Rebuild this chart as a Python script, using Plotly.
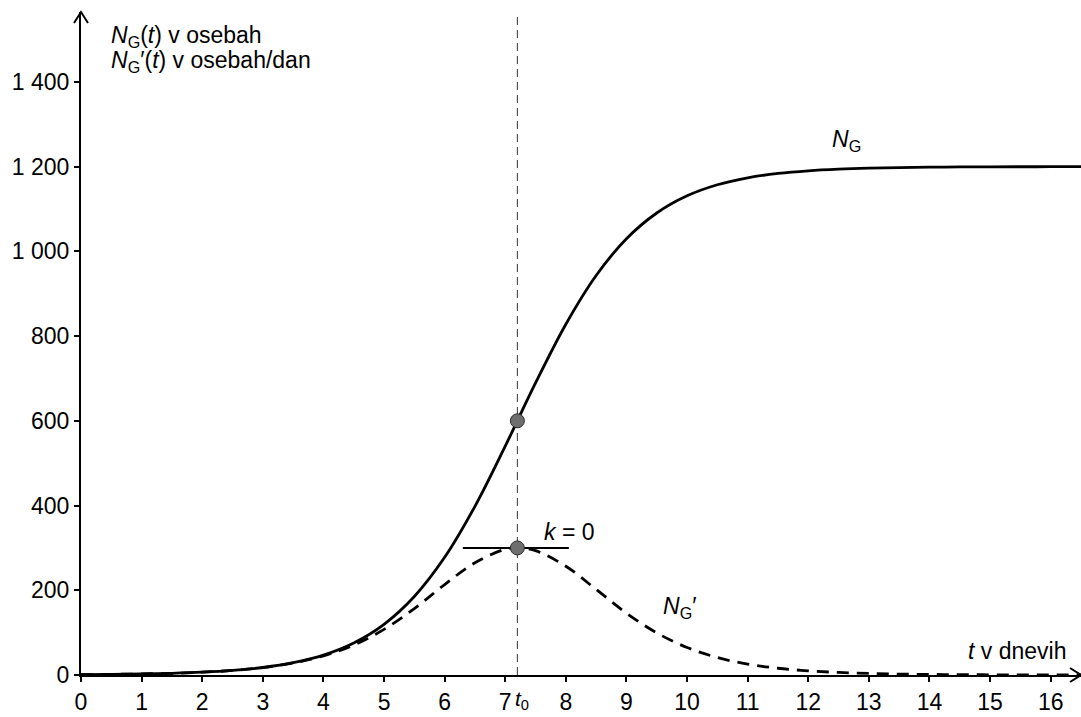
import plotly.graph_objects as go

# ---- data ----
t_days = [0, 0.5, 1, 1.5, 2, 2.5, 3, 3.5, 4, 4.5, 5, 5.5, 6, 6.5, 7, 7.2, 7.5, 8, 8.5, 9,
          9.5, 10, 10.5, 11, 11.5, 12, 12.5, 13, 13.5, 14, 14.5, 15, 15.5, 16, 16.5]
N_G = [0.9, 1.5, 2.4, 4.0, 6.6, 10.8, 17.7, 29.0, 47.0, 75.6, 119.7, 185.4, 277.8, 398.1,
       540.2, 600.0, 689.3, 828.0, 943.0, 1029.8, 1090.6, 1131.2, 1157.3, 1173.7, 1183.9,
       1190.2, 1194.0, 1196.4, 1197.8, 1198.7, 1199.2, 1199.5, 1199.7, 1199.8, 1199.9]
dN_G = [0.9, 1.5, 2.4, 4.0, 6.6, 10.7, 17.5, 28.3, 45.2, 70.8, 107.8, 156.7, 213.5, 265.0,
        297.0, 300.0, 293.4, 256.7, 202.0, 146.0, 99.4, 64.9, 41.2, 25.7, 15.9, 9.8, 6.0,
        3.6, 2.2, 1.3, 0.8, 0.5, 0.3, 0.2, 0.1]
t0 = 7.2
N_t0 = 600
dN_t0 = 300
tangent_t = [6.3, 8.05]
tangent_v = [300, 300]
x_ticks = list(range(0, 17))
y_ticks = [0, 200, 400, 600, 800, 1000, 1200, 1400]
y_tick_labels = ["0", "200", "400", "600", "800", "1 000", "1 200", "1 400"]

FONT = "Liberation Sans"
FS = 23

fig = go.Figure()
fig.add_trace(go.Scatter(x=t_days, y=dN_G, mode="lines", line=dict(color="black", width=2.8, dash="12px,8px", shape="spline"),
                         showlegend=False, hoverinfo="skip"))
fig.add_trace(go.Scatter(x=t_days, y=N_G, mode="lines", line=dict(color="black", width=2.8, shape="spline"),
                         showlegend=False, hoverinfo="skip"))
fig.add_trace(go.Scatter(x=tangent_t, y=tangent_v, mode="lines", line=dict(color="black", width=2),
                         showlegend=False, hoverinfo="skip"))
fig.add_trace(go.Scatter(x=[t0, t0], y=[N_t0, dN_t0], mode="markers",
                         marker=dict(size=14, color="#6e6e6e", line=dict(color="#2a2a2a", width=1)),
                         showlegend=False, hoverinfo="skip", cliponaxis=False))

# vertical dashed line at t0
fig.add_shape(type="line", xref="x", yref="paper", x0=t0, x1=t0, y0=0, y1=1,
              line=dict(color="#333333", width=1, dash="8px,5px"), layer="below")
# axis arrows (open chevrons)
fig.add_shape(type="path", xref="paper", yref="paper", xsizemode="pixel", ysizemode="pixel",
              xanchor=0, yanchor=1, path="M -7,-11 L 0,0 L 7,-11",
              line=dict(color="black", width=2))
fig.add_shape(type="path", xref="paper", yref="paper", xsizemode="pixel", ysizemode="pixel",
              xanchor=1, yanchor=0, path="M -11,7 L 0,0 L -11,-7",
              line=dict(color="black", width=2))

ann = dict(showarrow=False, font=dict(family=FONT, size=FS, color="black"))
fig.add_annotation(x=0.47, y=1506, xanchor="left", yanchor="middle",
                   text="<i>N</i><sub>G</sub>(<i>t</i>) v osebah", **ann)
fig.add_annotation(x=0.47, y=1448, xanchor="left", yanchor="middle",
                   text="<i>N</i><sub>G</sub>′(<i>t</i>) v osebah/dan", **ann)
fig.add_annotation(x=16.29, y=57, xanchor="right", yanchor="middle", text="<i>t</i> v dnevih", **ann)
fig.add_annotation(x=12.36, y=1262, xanchor="left", yanchor="middle", text="<i>N</i><sub>G</sub>", **ann)
fig.add_annotation(x=9.57, y=160, xanchor="left", yanchor="middle", text="<i>N</i><sub>G</sub>′", **ann)
fig.add_annotation(x=7.61, y=338, xanchor="left", yanchor="middle", text="<i>k</i> = 0", **ann)
fig.add_annotation(x=7.13, xref="x", y=-0.037, yref="paper", xanchor="left", yanchor="middle",
                   text="<i>t</i><sub>0</sub>", font=dict(family=FONT, size=21, color="black"),
                   showarrow=False)

fig.update_layout(
    width=1081, height=717,
    margin=dict(l=81, r=0, t=12, b=42),
    paper_bgcolor="white", plot_bgcolor="white",
    font=dict(family=FONT, size=FS, color="black"),
    xaxis=dict(range=[0, 16.5], showgrid=False, zeroline=False, showline=True, linecolor="black",
               linewidth=2, ticks="outside", ticklen=5, tickwidth=1.5, tickcolor="black",
               tickvals=x_ticks, tickfont=dict(family=FONT, size=FS)),
    yaxis=dict(range=[0, 1565], showgrid=False, zeroline=False, showline=True, linecolor="black",
               linewidth=2, ticks="outside", ticklen=5, tickwidth=1.5, tickcolor="black",
               tickvals=y_ticks, ticktext=y_tick_labels, tickfont=dict(family=FONT, size=FS)),
)

fig.write_html("out.html", config={"displayModeBar": False},
               post_script="document.body.style.margin='0';")
